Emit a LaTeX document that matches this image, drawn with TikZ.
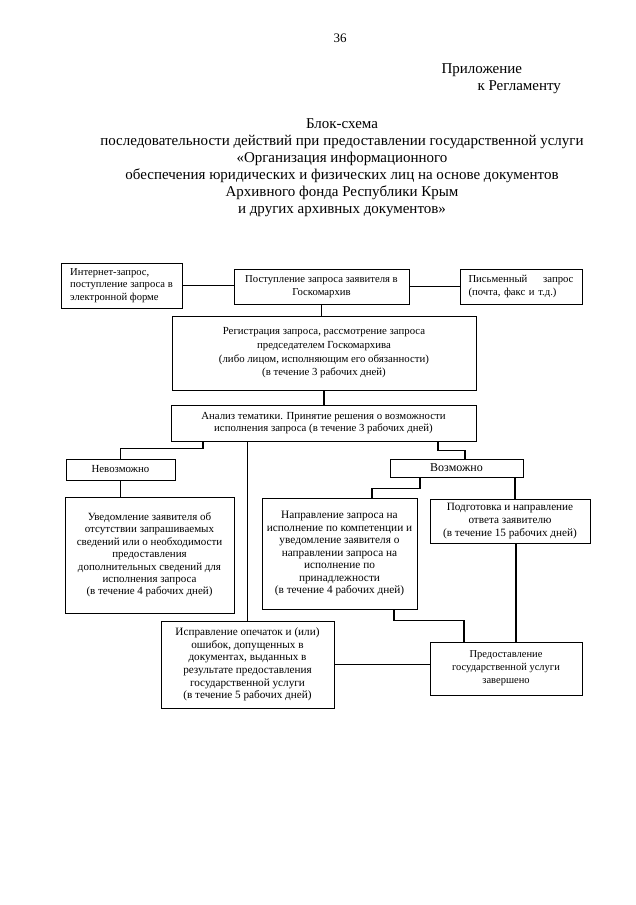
\documentclass[tikz,border=0pt]{standalone}
\usepackage{fontspec}
\setmainfont{Liberation Serif}
\usetikzlibrary{positioning}

\begin{document}
\begin{tikzpicture}[
    x=1pt, y=-1pt,
    box/.style={draw, rectangle, line width=0.8pt, inner sep=0pt, align=center, font=\fontsize{10.8}{12.4}\selectfont},
    head/.style={font=\fontsize{15}{17}\selectfont},
    link/.style={line width=1.2pt}
]
\useasboundingbox (0,0) rectangle (635,905);
\node[head, font=\fontsize{13}{15}\selectfont] (pagenum) at (340,38) {36};
\node[head, anchor=west] (appx) at (438,70) {Приложение};
\node[head, anchor=west] (reglink) at (474,87) {к Регламенту};
\node[head, align=center] (title) at (342,167.5) {Блок-схема\\последовательности действий при предоставлении государственной услуги\\«Организация информационного\\обеспечения юридических и физических лиц на основе документов\\Архивного фонда Республики Крым\\и других архивных документов»};

\node[box, minimum width=121pt, minimum height=45pt, align=left, font=\fontsize{10.6}{12.5}\selectfont] (inet) at (121.5,285.5) {Интернет-запрос,\\поступление запроса в\\электронной форме};
\node[box, minimum width=175pt, minimum height=35pt, font=\fontsize{10.7}{12.5}\selectfont] (recv) at (321.5,286.5) {Поступление запроса заявителя в\\Госкомархив};
\node[box, minimum width=122pt, minimum height=35pt, text width=105pt, align=left, font=\fontsize{10.7}{12.5}\selectfont] (letter) at (521,286.5) {Письменный\hfill запрос\\(почта, факс и т.д.)};
\node[box, minimum width=304pt, minimum height=74pt, font=\fontsize{10.8}{13.7}\selectfont] (reg) at (324,353) {Регистрация запроса, рассмотрение запроса\\председателем Госкомархива\\(либо лицом, исполняющим его обязанности)\\(в течение 3 рабочих дней)};
\node[box, minimum width=305pt, minimum height=36pt, font=\fontsize{10.8}{12}\selectfont] (anal) at (323.5,423) {Анализ тематики. Принятие решения о возможности\\исполнения запроса (в течение 3 рабочих дней)};
\node[box, minimum width=109pt, minimum height=21pt] (no) at (120.5,469.5) {Невозможно};
\node[box, minimum width=133pt, minimum height=18pt, font=\fontsize{12}{13}\selectfont] (yes) at (456.5,468) {Возможно};
\node[box, minimum width=169pt, minimum height=116pt, font=\fontsize{11}{12.4}\selectfont] (notify) at (149.5,555) {Уведомление заявителя об\\отсутствии запрашиваемых\\сведений или о необходимости\\предоставления\\дополнительных сведений для\\исполнения запроса\\(в течение 4 рабочих дней)};
\node[box, minimum width=155pt, minimum height=111pt, font=\fontsize{11.3}{12.5}\selectfont] (redir) at (339.5,553.5) {Направление запроса на\\исполнение по компетенции и\\уведомление заявителя о\\направлении запроса на\\исполнение по\\принадлежности\\(в течение 4 рабочих дней)};
\node[box, minimum width=160pt, minimum height=44pt, font=\fontsize{11.2}{12.6}\selectfont] (prep) at (510,521) {Подготовка и направление\\ответа заявителю\\(в течение 15 рабочих дней)};
\node[box, minimum width=173pt, minimum height=87pt, font=\fontsize{11.2}{12.6}\selectfont] (fix) at (247.5,664.5) {Исправление опечаток и (или)\\ошибок, допущенных в\\документах, выданных в\\результате предоставления\\государственной услуги\\(в течение 5 рабочих дней)};
\node[box, minimum width=152pt, minimum height=53pt, font=\fontsize{10.5}{13}\selectfont] (done) at (506,668.5) {Предоставление\\государственной услуги\\завершено};

\draw[link] (inet.east) -- (inet.east -| recv.west);
\draw[link] (recv.east) -- (recv.east -| letter.west);
\draw[link] (recv.south) -- (recv.south |- reg.north);
\draw[link] (reg.south) -- (reg.south |- anal.north);
\draw[link] ([xshift=-120.5pt]anal.south) -- ++(0,7) -| (no.north);
\draw[link] (anal.south -| fix.north) -- (fix.north);
\draw[link] ([xshift=114.5pt]anal.south) -- ++(0,9) -| ([xshift=8.5pt]yes.north);
\draw[link] (no.south) -- (no.south |- notify.north);
\draw[link] ([xshift=-36.5pt]yes.south) -- ++(0,11) -| ([xshift=32.5pt]redir.north);
\draw[link] ([xshift=58.5pt]yes.south) -- ([xshift=58.5pt]yes.south |- prep.north);
\draw[link] ([xshift=54.5pt]redir.south) -- ++(0,11) -| ([xshift=-42pt]done.north);
\draw[link] ([xshift=6pt]prep.south) -- ([xshift=6pt]prep.south |- done.north);
\draw[link] (fix.east) -- (fix.east -| done.west);
\end{tikzpicture}
\end{document}
